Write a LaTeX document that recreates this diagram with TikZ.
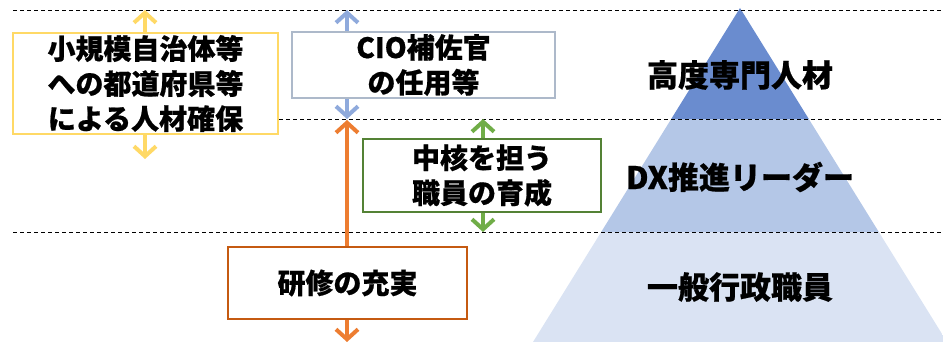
\documentclass[tikz,border=0pt]{standalone}
\usepackage{fontspec}
\setmainfont{Noto Sans CJK JP}[BoldFeatures={FakeBold=0.6}]
\usetikzlibrary{arrows.meta}
\definecolor{ylw}{HTML}{FFD966}
\definecolor{cioB}{HTML}{ADB9CA}
\definecolor{cioA}{HTML}{8FAADC}
\definecolor{grB}{HTML}{548235}
\definecolor{grA}{HTML}{70AD47}
\definecolor{orB}{HTML}{C55A11}
\definecolor{orA}{HTML}{ED7D31}
\definecolor{pyrT}{HTML}{6A8CCF}
\definecolor{pyrM}{HTML}{B4C7E7}
\definecolor{pyrB}{HTML}{DAE3F3}
\begin{document}
\begin{tikzpicture}[x=1pt,y=-1pt,
  box/.style={draw,line width=2pt,fill=white,align=center,inner sep=0pt,
    font=\fontsize{28}{35}\selectfont\bfseries},
  lvl/.style={font=\fontsize{31}{35}\selectfont\bfseries,inner sep=0pt},
  sgl/.style={line width=4pt,-{Straight Barb[length=10pt,width=22pt]}},
  sep/.style={line width=0.8pt,dash pattern=on 4pt off 3pt}]
\useasboundingbox (0,0) rectangle (943,342);
% pyramid
\coordinate (apex) at (740,8);
\coordinate (bl) at (533,342);
\coordinate (br) at (947,342);
\begin{scope}
\clip (apex) -- (bl) -- (br) -- cycle;
\fill[pyrT] (520,0) rectangle (960,119);
\fill[pyrM] (520,119) rectangle (960,232);
\fill[pyrB] (520,232) rectangle (960,342);
\end{scope}
% dashed separators
\coordinate (s1a) at (13,10); \coordinate (s1b) at (943,10);
\coordinate (s2a) at (13,119); \coordinate (s2b) at (943,119);
\coordinate (s3a) at (13,232); \coordinate (s3b) at (943,232);
\draw[sep] (s1a) -- (s1b);
\draw[sep] (s2a) -- (s2b);
\draw[sep] (s3a) -- (s3b);
% level labels
\node[lvl] (l1) at (740,75) {高度専門人材};
\node[lvl] (l2) at (740,177) {DX推進リーダー};
\node[lvl] (l3) at (740,287) {一般行政職員};
% boxes
\node[box,draw=ylw,minimum width=265pt,minimum height=101pt] (yb) at (145.5,83.5) {小規模自治体等\\への都道府県等\\による人材確保};
\node[box,draw=cioB,minimum width=263pt,minimum height=66pt] (cio) at (423.5,65) {CIO補佐官\\の任用等};
\node[box,draw=grB,minimum width=238pt,minimum height=73pt] (gr) at (482,175.5) {中核を担う\\職員の育成};
\node[box,draw=orB,minimum width=239pt,minimum height=72pt] (or) at (347.5,283) {研修の充実};
% arrow ends
\coordinate (yt) at (145,10); \coordinate (ybt) at (145,159);
\coordinate (ct) at (347,10); \coordinate (cbt) at (347,119);
\coordinate (gt) at (483,119); \coordinate (gbt) at (483,232);
\coordinate (ot) at (347,120); \coordinate (obt) at (347,342);
% arrows
\draw[sgl,ylw] (yb.north -| yt) -- (yt);
\draw[sgl,ylw] (yb.south -| yt) -- (ybt);
\draw[sgl,cioA] (cio.north -| ct) -- (ct);
\draw[sgl,cioA] (cio.south -| ct) -- (cbt);
\draw[sgl,grA] (gr.north -| gt) -- (gt);
\draw[sgl,grA] (gr.south -| gt) -- (gbt);
\draw[sgl,orA] (or.north -| ot) -- (ot);
\draw[sgl,orA] (or.south -| ot) -- (obt);
\end{tikzpicture}
\end{document}
